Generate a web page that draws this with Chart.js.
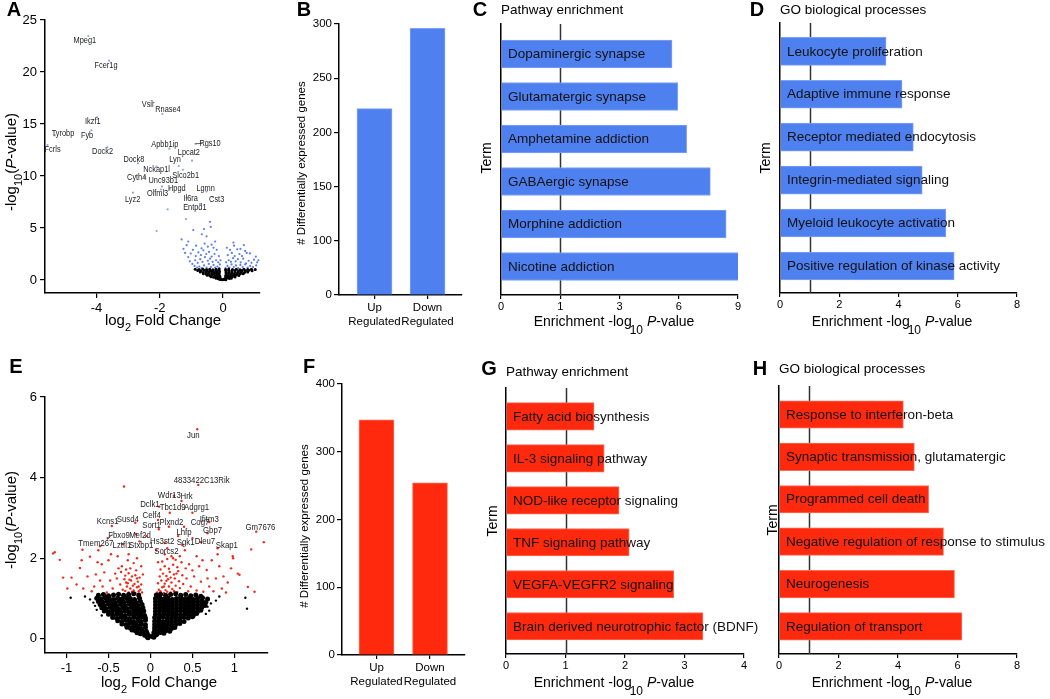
<!DOCTYPE html>
<html>
<head>
<meta charset="utf-8">
<script src="https://cdn.jsdelivr.net/npm/chart.js@4.4.1/dist/chart.umd.min.js"></script>
<style>
  body { margin: 0; background: #fff; }
  #fig { position: relative; width: 1050px; height: 699px; overflow: hidden; background: #fff; }
  #fig canvas { position: absolute; }
  .letter { position: absolute; font: bold 20px "Liberation Sans", Arial, sans-serif; transform: translate(-50%, -50%); }
</style>
</head>
<body>
<div id="fig"></div>
<script>
// ---------- data ----------
// panel A volcano (log2FC, -log10 p)
const aBlack = [
  [-0.1,0.04],[-0.05,0.07],[0.04,0.05],[0.09,0.03],[-0.02,0.02],[0.02,0.08],
  [-0.22,0.16],[-0.15,0.13],[-0.09,0.18],[0.07,0.14],[0.13,0.19],[0.2,0.15],[0.26,0.17],
  [-0.38,0.31],[-0.3,0.27],[-0.23,0.33],[-0.16,0.29],[-0.1,0.34],[0.08,0.28],[0.15,0.32],[0.22,0.27],[0.3,0.33],[0.38,0.29],
  [-0.5,0.46],[-0.42,0.43],[-0.34,0.48],[-0.26,0.44],[-0.18,0.47],[-0.11,0.42],[0.09,0.46],[0.17,0.43],[0.25,0.48],[0.33,0.44],[0.42,0.47],[0.5,0.43],
  [-0.62,0.61],[-0.53,0.58],[-0.45,0.63],[-0.36,0.59],[-0.28,0.62],[-0.2,0.57],[-0.12,0.6],[0.1,0.62],[0.18,0.58],[0.27,0.61],[0.36,0.57],[0.45,0.63],[0.55,0.59],[0.64,0.61],
  [-0.72,0.76],[-0.63,0.73],[-0.54,0.78],[-0.45,0.74],[-0.36,0.77],[-0.27,0.72],[-0.19,0.76],[-0.11,0.79],[0.1,0.74],[0.19,0.78],[0.28,0.73],[0.38,0.77],[0.48,0.74],[0.58,0.78],[0.68,0.73],[0.78,0.76],
  [-0.8,0.91],[-0.7,0.88],[-0.6,0.93],[-0.5,0.89],[-0.4,0.92],[-0.31,0.87],[-0.22,0.91],[-0.13,0.94],[0.09,0.89],[0.18,0.93],[0.28,0.88],[0.38,0.92],[0.49,0.87],[0.6,0.91],[0.71,0.88],[0.82,0.93],[0.92,0.89],
  [-0.88,1.03],[-0.76,1.0],[-0.64,1.05],[-0.52,1.01],[-0.42,1.04],[-0.32,0.99],[-0.22,1.03],[-0.12,1.06],[0.08,1.01],[0.18,1.05],[0.3,1.0],[0.42,1.04],[0.54,0.99],[0.66,1.03],[0.78,1.0],[0.9,1.04],[1.02,1.01]
];
const aBlue = [
  [-0.12,1.15],[-0.18,1.3],[-0.25,1.2],[-0.3,1.45],[-0.38,1.25],[-0.45,1.55],[-0.52,1.2],[-0.6,1.4],[-0.68,1.15],[-0.75,1.3],[-0.82,1.2],[-0.9,1.35],
  [-0.15,1.7],[-0.22,1.9],[-0.33,1.75],[-0.41,2.05],[-0.48,1.85],[-0.57,2.2],[-0.65,1.75],[-0.72,2.0],[-0.8,1.65],[-0.88,1.9],[-0.97,1.55],[-1.05,1.8],
  [-0.13,2.3],[-0.27,2.5],[-0.36,2.25],[-0.44,2.7],[-0.53,2.5],[-0.62,2.85],[-0.7,2.4],[-0.78,2.65],[-0.86,2.3],[-1.1,2.2],[-1.02,2.55],
  [-0.2,2.9],[-0.3,3.1],[-0.48,3.2],[-0.58,3.5],[-0.68,3.05],[-0.85,3.3],[-0.95,2.9],[-1.15,3.35],[-1.1,3.7],[-1.31,3.9],[-0.36,3.4],
  [-0.52,4.2],[-0.67,4.4],[-0.94,4.8],[-0.6,4.9],[-0.41,5.6],[-0.39,5.1],[-0.25,3.7],[-1.25,3.0],[-1.2,2.6],[-0.1,1.5],[-0.08,1.9],
  [0.08,1.15],[0.14,1.35],[0.2,1.2],[0.27,1.5],[0.34,1.25],[0.41,1.4],[0.48,1.15],[0.55,1.45],[0.62,1.25],[0.7,1.5],[0.78,1.2],[0.86,1.35],[0.95,1.25],[1.05,1.4],
  [0.1,1.7],[0.18,1.9],[0.25,1.75],[0.32,2.1],[0.4,1.8],[0.47,2.0],[0.56,1.7],[0.64,2.05],[0.73,1.6],[0.81,1.85],[0.9,1.65],[0.98,1.95],[1.08,1.7],[1.12,1.9],
  [0.15,2.4],[0.28,2.6],[0.37,2.3],[0.52,2.5],[0.6,2.3],[0.75,2.6],[0.85,2.56],[1.04,2.24],[0.22,2.9],[0.35,3.3],[0.45,2.95],[0.66,3.36],[0.55,3.0],[0.12,3.1],[0.33,3.6],[0.7,2.8]
];
const aTop = [
  [-4.26,23.46],[-3.6,21.09],[-2.24,17.21],[-1.92,15.96],[-3.98,15.64],[-5.32,13.9],[-4.16,14.4],[-5.55,12.98],
  [-3.66,12.76],[-1.7,12.63],[-0.87,13.1],[-0.98,11.47],[-2.69,11.22],[-1.4,10.96],[-2.1,10.9],[-1.27,10.6],
  [-2.47,9.9],[-1.93,9.0],[-1.68,8.75],[-0.52,8.5],[-1.96,8.7],[-1.15,7.9],[-0.32,8.0],[-2.85,8.4],[-0.73,7.3],
  [-1.75,6.8],[-2.1,4.7],[-1.17,5.85]
];
const aGenes = [
  ['Mpeg1',-4.37,22.98],['Fcer1g',-3.7,20.58],['Vsir',-2.37,16.83],['Rnase4',-1.74,16.35],['Ikzf1',-4.12,15.22],
  ['Tyrobp',-5.06,14.13],['Fyb',-4.3,13.94],['Fcrls',-5.39,12.5],['Dock2',-3.81,12.34],['Apbb1ip',-1.84,12.98],
  ['Rgs10',-0.41,13.14],['Lpcat2',-1.08,12.24],['Dock8',-2.82,11.63],['Lyn',-1.52,11.54],['Nckap1l',-2.1,10.67],
  ['Slco2b1',-1.18,10.03],['Cyth4',-2.73,9.81],['Unc93b1',-1.89,9.55],['Hpgd',-1.46,8.78],['Lgmn',-0.55,8.78],
  ['Olfml3',-2.07,8.34],['Il6ra',-1.02,7.88],['Cst3',-0.2,7.76],['Lyz2',-2.86,7.76],['Entpd1',-0.89,6.99]
];

// panel B / F counts
const regCats = [['Up', 'Regulated'], ['Down', 'Regulated']];
const bCounts = [222, 296];
const bTicks = [0, 100, 150, 200, 250, 300];
const fCounts = [347, 254];
const fTicks = [0, 100, 200, 300, 400];

// panel C / D / G / H enrichment (-log10 p)
const cTerms = ['Dopaminergic synapse', 'Glutamatergic synapse', 'Amphetamine addiction', 'GABAergic synapse', 'Morphine addiction', 'Nicotine addiction'];
const cVals = [5.66, 5.95, 6.4, 7.6, 8.4, 9.05];
const cTicks = [0, 1, 3, 6, 9];
const dTerms = ['Leukocyte proliferation', 'Adaptive immune response', 'Receptor mediated endocytosis', 'Integrin-mediated signaling', 'Myeloid leukocyte activation', 'Positive regulation of kinase activity'];
const dVals = [3.58, 4.12, 4.5, 4.8, 5.6, 5.88];
const dTicks = [0, 2, 4, 6, 8];
const gTerms = ['Fatty acid biosynthesis', 'IL-3 signaling pathway', 'NOD-like receptor signaling', 'TNF signaling pathway', 'VEGFA-VEGFR2 signaling', 'Brain derived neurotrophic factor (BDNF)'];
const gVals = [1.48, 1.65, 1.9, 2.07, 2.82, 3.31];
const gTicks = [0, 1, 2, 3, 4];
const hTerms = ['Response to interferon-beta', 'Synaptic transmission, glutamatergic', 'Programmed cell death', 'Negative regulation of response to stimulus', 'Neurogenesis', 'Regulation of transport'];
const hVals = [4.18, 4.55, 5.03, 5.53, 5.9, 6.15];
const hTicks = [0, 2, 4, 6, 8];

// panel E volcano
const eBlack = [
  [-0.04,0.05],[-0.02,0.08],[-0.03,0.03],[0.02,0.06],[0.04,0.04],[0.05,0.09],[-0.07,0.09],[0.07,0.1],
  [-0.16,0.15],[-0.12,0.13],[-0.08,0.16],[-0.04,0.14],[0.04,0.15],[0.08,0.13],[0.12,0.16],[0.16,0.14],
  [-0.22,0.22],[-0.18,0.2],[-0.14,0.23],[-0.1,0.21],[-0.05,0.19],[0.05,0.22],[0.1,0.2],[0.14,0.23],[0.19,0.21],[0.23,0.19],
  [-0.28,0.29],[-0.24,0.27],[-0.2,0.3],[-0.15,0.28],[-0.11,0.26],[-0.06,0.29],[0.05,0.28],[0.1,0.3],[0.15,0.27],[0.2,0.29],[0.25,0.26],[0.29,0.28],
  [-0.34,0.37],[-0.29,0.35],[-0.25,0.38],[-0.2,0.36],[-0.16,0.34],[-0.11,0.37],[-0.06,0.35],[0.05,0.36],[0.1,0.38],[0.15,0.35],[0.2,0.37],[0.25,0.34],[0.3,0.36],[0.35,0.38],
  [-0.39,0.45],[-0.34,0.43],[-0.29,0.46],[-0.24,0.44],[-0.2,0.42],[-0.15,0.45],[-0.11,0.43],[-0.06,0.46],[0.05,0.44],[0.1,0.46],[0.15,0.43],[0.2,0.45],[0.25,0.42],[0.3,0.44],[0.35,0.46],[0.4,0.43],
  [-0.45,0.53],[-0.4,0.51],[-0.35,0.54],[-0.3,0.52],[-0.25,0.5],[-0.2,0.53],[-0.15,0.51],[-0.11,0.54],[-0.06,0.52],[0.05,0.53],[0.1,0.51],[0.15,0.54],[0.2,0.52],[0.25,0.5],[0.3,0.53],[0.35,0.51],[0.4,0.54],[0.45,0.52],[0.5,0.55],
  [-0.5,0.61],[-0.45,0.59],[-0.4,0.62],[-0.35,0.6],[-0.3,0.58],[-0.25,0.61],[-0.2,0.59],[-0.16,0.62],[-0.11,0.6],[-0.07,0.58],[0.06,0.61],[0.11,0.59],[0.16,0.62],[0.21,0.6],[0.26,0.58],[0.31,0.61],[0.36,0.59],[0.41,0.62],[0.46,0.6],[0.51,0.58],[0.55,0.63],
  [-0.55,0.69],[-0.5,0.67],[-0.45,0.7],[-0.4,0.68],[-0.35,0.66],[-0.3,0.69],[-0.25,0.67],[-0.2,0.7],[-0.16,0.68],[-0.12,0.66],[-0.08,0.69],[0.06,0.68],[0.11,0.7],[0.16,0.67],[0.21,0.69],[0.26,0.66],[0.31,0.68],[0.36,0.7],[0.41,0.67],[0.46,0.69],[0.51,0.66],[0.56,0.68],[0.6,0.71],
  [-0.58,0.77],[-0.53,0.75],[-0.48,0.78],[-0.43,0.76],[-0.38,0.74],[-0.33,0.77],[-0.28,0.75],[-0.23,0.78],[-0.18,0.76],[-0.13,0.74],[-0.09,0.77],[0.06,0.76],[0.11,0.78],[0.16,0.75],[0.21,0.77],[0.26,0.74],[0.31,0.76],[0.36,0.78],[0.41,0.75],[0.46,0.77],[0.51,0.74],[0.56,0.76],[0.61,0.78],
  [-0.6,0.85],[-0.55,0.83],[-0.5,0.86],[-0.45,0.84],[-0.4,0.82],[-0.35,0.85],[-0.3,0.83],[-0.25,0.86],[-0.2,0.84],[-0.15,0.82],[-0.1,0.85],[0.06,0.84],[0.11,0.86],[0.16,0.83],[0.21,0.85],[0.26,0.82],[0.31,0.84],[0.36,0.86],[0.41,0.83],[0.46,0.85],[0.51,0.82],[0.56,0.84],[0.61,0.86],[0.65,0.83],
  [-0.62,0.93],[-0.57,0.91],[-0.52,0.94],[-0.47,0.92],[-0.42,0.9],[-0.37,0.93],[-0.32,0.91],[-0.27,0.94],[-0.22,0.92],[-0.17,0.9],[-0.12,0.93],[0.06,0.92],[0.11,0.94],[0.16,0.91],[0.21,0.93],[0.26,0.9],[0.31,0.92],[0.36,0.94],[0.41,0.91],[0.46,0.93],[0.51,0.9],[0.56,0.92],[0.61,0.94],[0.66,0.91],
  [-0.64,1.01],[-0.59,0.99],[-0.54,1.02],[-0.49,1.0],[-0.44,0.98],[-0.39,1.01],[-0.34,0.99],[-0.29,1.02],[-0.24,1.0],[-0.19,0.98],[-0.13,1.01],[0.06,1.0],[0.11,1.02],[0.16,0.99],[0.21,1.01],[0.26,0.98],[0.31,1.0],[0.36,1.02],[0.41,0.99],[0.46,1.01],[0.51,0.98],[0.56,1.0],[0.62,1.02],[0.68,0.99],
  [-0.62,1.08],[-0.56,1.1],[-0.5,1.07],[-0.44,1.09],[-0.38,1.11],[-0.32,1.08],[-0.26,1.1],[-0.2,1.12],[-0.14,1.09],[0.07,1.09],[0.12,1.11],[0.18,1.08],[0.24,1.1],[0.3,1.12],[0.36,1.08],[0.42,1.1],[0.48,1.07],[0.54,1.09],[0.6,1.06]
];
// scattered non-significant points outside the dense cloud
const eBlackOut = [
  [-0.95,1.02],[-0.78,1.05],[-0.72,0.98],[-0.68,0.9],[0.72,0.88],[0.68,0.8],[0.78,0.95],[0.82,1.05],[1.13,1.02],[1.15,0.75],
  [-0.66,0.82],[-0.64,0.72],[0.7,0.7],[0.66,0.62],[-0.58,0.58]
];
const eRed = [
  [-0.1,1.15],[-0.14,1.18],[-0.18,1.14],[-0.22,1.17],[-0.26,1.15],[-0.3,1.19],[-0.12,1.22],[-0.16,1.28],[-0.2,1.2],[-0.24,1.25],[-0.28,1.3],[-0.33,1.22],
  [-0.11,1.35],[-0.15,1.42],[-0.19,1.36],[-0.23,1.45],[-0.27,1.38],[-0.31,1.48],[-0.36,1.35],[-0.13,1.52],[-0.18,1.58],[-0.22,1.55],[-0.26,1.63],[-0.3,1.57],
  [-0.35,1.66],[-0.4,1.5],[-0.17,1.7],[-0.24,1.75],[-0.29,1.72],[-0.34,1.8],[-0.38,1.75],[-0.42,1.62],[-0.45,1.25],[-0.48,1.45],[-0.09,1.6],[-0.11,1.8],
  [-0.2,1.88],[-0.27,1.95],[-0.39,2.05],[-0.26,2.1],[-0.16,2.0],[-0.14,1.3],[-0.21,1.32],[-0.25,1.47],[-0.16,1.5],[-0.29,1.4],
  [-1.16,2.12],[-1.08,1.96],[-1.04,1.52],[-0.94,1.52],[-0.84,1.76],[-0.8,1.25],[-0.72,2.04],[-0.63,1.9],[-0.6,1.45],[-0.55,1.65],[-0.52,1.15],[-0.67,1.3],
  [-0.75,1.55],[-0.88,1.35],[-0.58,1.85],[-0.5,1.95],[-0.65,1.6],[-0.7,1.18],[-0.62,2.2],[-0.47,2.1],[-0.82,1.95],[-0.57,1.3],[-0.99,1.25],
  [0.08,1.15],[0.12,1.18],[0.16,1.14],[0.2,1.17],[0.24,1.15],[0.28,1.19],[0.32,1.16],[0.1,1.22],[0.14,1.28],[0.18,1.21],[0.22,1.3],[0.26,1.24],[0.3,1.32],[0.35,1.26],
  [0.09,1.38],[0.13,1.45],[0.17,1.37],[0.21,1.48],[0.25,1.4],[0.29,1.5],[0.34,1.43],[0.39,1.36],[0.11,1.55],[0.15,1.62],[0.19,1.56],[0.23,1.66],[0.28,1.6],
  [0.33,1.68],[0.38,1.58],[0.43,1.5],[0.12,1.72],[0.17,1.8],[0.22,1.74],[0.27,1.84],[0.32,1.78],[0.37,1.9],[0.42,1.75],[0.14,1.92],[0.2,1.98],[0.25,2.05],
  [0.3,1.96],[0.46,1.85],[0.07,2.2],[0.17,2.1],[0.27,2.0],[0.41,2.2],[0.09,1.9],[0.35,2.05],[0.48,1.3],[0.45,1.18],[0.16,1.3],[0.24,1.52],[0.19,1.44],[0.31,1.62],
  [0.52,1.55],[0.55,1.2],[0.58,1.8],[0.6,1.42],[0.63,1.17],[0.67,1.71],[0.7,1.3],[0.73,1.95],[0.75,1.18],[0.78,1.5],[0.82,1.8],[0.85,1.25],[0.87,1.55],
  [0.92,1.4],[0.985,2.0],[1.06,1.59],[1.04,1.62],[1.16,1.29],[1.24,1.17],[0.55,2.05],[0.62,1.95],[0.68,1.5],[0.8,2.1],[0.9,1.15],[0.5,1.7],[0.96,1.75],
  [0.557,5.2],[0.57,3.82],[-0.315,3.78],[0.37,3.42],[0.28,3.55],[0.105,3.28],[0.23,3.13],[0.5,3.13],[0.09,2.95],[-0.46,2.8],[-0.18,2.88],[0.1,2.72],
  [0.22,2.78],[0.4,2.78],[0.7,2.9],[0.68,2.62],[1.26,2.66],[1.35,2.4],[1.2,2.22],[0.33,2.55],[-0.17,2.6],[-0.51,2.5],[-0.6,2.3],[-0.81,2.21],[-0.33,2.35],
  [-0.13,2.42],[0.17,2.38],[0.38,2.33],[0.6,2.4],[0.8,2.25],[0.2,2.25],[0.98,2.05],[-1.14,2.15],[0.5,2.5],[-0.05,2.55]
];
const eGenes = [
  ['Jun',0.51,5.06],['4833422C13Rik',0.61,3.93],['Wdr13',0.224,3.56],['Hrk',0.43,3.53],['Dclk1',-0.006,3.33],
  ['Tbc1d9',0.264,3.26],['Adgrg1',0.55,3.26],['Celf4',0.014,3.07],['Kcns1',-0.51,2.91],['Susd4',-0.27,2.97],
  ['Ifitm3',0.7,2.97],['Sort1',0.014,2.82],['Plxnd2',0.25,2.89],['Cog7',0.59,2.89],['Gbp7',0.74,2.7],
  ['Gm7676',1.31,2.76],['Fbxo9',-0.375,2.58],['Mef2d',-0.125,2.58],['Lhfp',0.4,2.64],['Hs3st2',0.14,2.43],
  ['Sgk1',0.42,2.4],['Dleu7',0.65,2.41],['Skap1',0.91,2.31],['Tmem267',-0.65,2.37],['Lztfl1',-0.34,2.31],
  ['Stxbp1',-0.11,2.31],['Sorcs2',0.19,2.18]
];

// ---------- helpers ----------
const FONT = '"Liberation Sans", Arial, sans-serif';
Chart.defaults.font.family = FONT;
Chart.defaults.color = '#000';
Chart.defaults.animation = false;
Chart.defaults.events = [];
Chart.defaults.plugins.legend.display = false;
Chart.defaults.plugins.tooltip.enabled = false;

const fig = document.getElementById('fig');
const BLUE = '#4f80f0', BLUE_EDGE = '#7ea3f6';
const RED = '#ff2a0e', RED_EDGE = '#ff6b55';

function canvasAt(box) {
  const c = document.createElement('canvas');
  c.width = box[2]; c.height = box[3];
  c.style.left = box[0] + 'px'; c.style.top = box[1] + 'px';
  fig.appendChild(c);
  return c;
}

function letter(t, x, y) {
  const d = document.createElement('div');
  d.className = 'letter'; d.textContent = t;
  d.style.left = x + 'px'; d.style.top = y + 'px';
  fig.appendChild(d);
}

// axis position of a value: piecewise linear between the labelled ticks
function stepPos(tickVals) {
  return v => {
    for (let i = 1; i < tickVals.length; i++) {
      if (v <= tickVals[i] || i === tickVals.length - 1)
        return (i - 1) + (v - tickVals[i - 1]) / (tickVals[i] - tickVals[i - 1]);
    }
  };
}

// text made of pieces (subscripts, italics), page coordinates
function drawRich(ctx, r, ox, oy) {
  const size = r.size, subSize = r.subSize || Math.round(size * 0.8), dy = r.dy || size * 0.55;
  const fontOf = p => (p.it ? 'italic ' : '') + (p.sub ? subSize : size) + 'px ' + FONT;
  let w = 0;
  r.parts.forEach(p => { ctx.font = fontOf(p); p.w = ctx.measureText(p.t).width; w += p.w + (p.k || 0); });
  ctx.save();
  ctx.translate(r.x - ox, r.y - oy);
  if (r.rot) ctx.rotate(r.rot);
  ctx.fillStyle = '#000';
  ctx.textBaseline = 'middle';
  ctx.textAlign = 'left';
  let cx = r.align === 'left' ? 0 : -w / 2;
  r.parts.forEach(p => {
    ctx.font = fontOf(p);
    ctx.fillText(p.t, cx + (p.k || 0), p.sub ? dy : 0);
    cx += p.w + (p.k || 0);
  });
  ctx.restore();
}

function txt(t, x, y, size, extra) { return Object.assign({parts: [{t: t}], x: x, y: y, size: size}, extra || {}); }

const UP = -Math.PI / 2;
const enrichTitle = (x, y) => ({x: x, y: y, size: 14, subSize: 12, dy: 9, parts: [
  {t: 'Enrichment -log'}, {t: '10', sub: true, k: -2}, {t: ' '}, {t: 'P', it: true}, {t: '-value'}]});
const logPTitle = (x, y) => ({x: x, y: y, size: 15, subSize: 11, dy: 7, rot: UP, parts: [
  {t: '-log'}, {t: '10', sub: true}, {t: '('}, {t: 'P', it: true}, {t: '-value)'}]});
const fcTitle = (x, y) => ({x: x, y: y, size: 15, subSize: 11, dy: 7, parts: [
  {t: 'log'}, {t: '2', sub: true}, {t: ' Fold Change'}]});

function frame(box, plot) {
  return {
    padding: {left: 0, top: plot[1] - box[1], right: box[0] + box[2] - plot[2], bottom: 0},
    yw: plot[0] - box[0],
    xh: box[1] + box[3] - plot[3]
  };
}

function axis(f, isX, o) {
  return Object.assign({
    type: 'linear',
    offset: false,
    grid: {display: o.tickMarks !== false, offset: false, drawOnChartArea: false, drawTicks: true, tickLength: o.tickLength || 5, color: '#000', lineWidth: 1.2},
    border: {display: true, color: '#000', width: 1.5},
    ticks: {display: o.tickMarks !== false, color: '#000', padding: o.pad == null ? 3 : o.pad, font: {size: o.font || 12}, callback: o.cb, maxRotation: 0, autoSkip: false},
    afterFit: isX ? (s => { s.height = f.xh; }) : (s => { s.width = f.yw; }),
    afterBuildTicks: o.ticks ? (s => { s.ticks = o.ticks.map(v => ({value: v})); }) : undefined
  }, o.extra || {});
}

// ---------- volcano ----------
function volcano(box, plot, xr, yr, xt, yt, sets, genes, leaders, texts, geneSize) {
  const f = frame(box, plot);
  new Chart(canvasAt(box), {
    type: 'scatter',
    data: {datasets: sets.map(s => ({
      data: s.pts.map(p => ({x: p[0], y: p[1]})),
      backgroundColor: s.color, borderWidth: 0, pointRadius: s.r, pointHoverRadius: s.r
    }))},
    options: {
      responsive: false, layout: {padding: f.padding},
      scales: {
        x: axis(f, true, {ticks: xt, font: 13, extra: {min: xr[0], max: xr[1]}}),
        y: axis(f, false, {ticks: yt, font: 13, extra: {min: yr[0], max: yr[1]}})
      }
    },
    plugins: [{
      id: 'volcanoText',
      afterDatasetsDraw(c) {
        const ctx = c.ctx, X = c.scales.x, Y = c.scales.y;
        ctx.save();
        ctx.strokeStyle = '#333'; ctx.lineWidth = 0.8;
        leaders.forEach(l => {
          ctx.beginPath();
          ctx.moveTo(X.getPixelForValue(l[0]), Y.getPixelForValue(l[1]));
          ctx.lineTo(X.getPixelForValue(l[2]), Y.getPixelForValue(l[3]));
          ctx.stroke();
        });
        ctx.fillStyle = '#1a1a1a';
        ctx.textAlign = 'center'; ctx.textBaseline = 'middle';
        ctx.font = geneSize + 'px ' + FONT;
        genes.forEach(g => {
          ctx.save();
          ctx.translate(X.getPixelForValue(g[1]), Y.getPixelForValue(g[2]));
          ctx.scale(0.82, 1);
          ctx.fillText(g[0], 0, 0);
          ctx.restore();
        });
        ctx.restore();
      },
      afterDraw(c) { texts.forEach(t => drawRich(c.ctx, t, box[0], box[1])); }
    }]
  });
}

// ---------- vertical count bars ----------
function countBars(box, plot, xr, vals, tickVals, color, edge, texts) {
  const f = frame(box, plot);
  const pos = stepPos(tickVals);
  new Chart(canvasAt(box), {
    type: 'bar',
    data: {datasets: [{
      data: vals.map((v, i) => ({x: i, y: pos(v)})),
      backgroundColor: color, borderColor: edge, borderWidth: 1, barThickness: 35
    }]},
    options: {
      responsive: false, layout: {padding: f.padding},
      scales: {
        x: axis(f, true, {ticks: regCats.map((c, i) => i), tickLength: 4, pad: 2, font: 11.5,
          cb: (v, i) => regCats[i], extra: {min: xr[0], max: xr[1]}}),
        y: axis(f, false, {ticks: tickVals.map((t, i) => i), font: 11.5, pad: 2,
          cb: (v, i) => String(tickVals[i]), extra: {min: 0, max: tickVals.length - 1}})
      }
    },
    plugins: [{id: 'countText', afterDraw(c) { texts.forEach(t => drawRich(c.ctx, t, box[0], box[1])); }}]
  });
}

// ---------- horizontal enrichment bars ----------
function enrichBars(box, plot, yr, thick, terms, vals, tickVals, color, edge, texts) {
  const f = frame(box, plot);
  const pos = stepPos(tickVals);
  new Chart(canvasAt(box), {
    type: 'bar',
    data: {datasets: [{
      data: vals.map((v, i) => ({x: pos(v), y: i})),
      backgroundColor: color, borderColor: edge, borderWidth: 1, barThickness: thick
    }]},
    options: {
      indexAxis: 'y',
      responsive: false, layout: {padding: f.padding},
      scales: {
        x: axis(f, true, {ticks: tickVals.map((t, i) => i), tickLength: 4, pad: 1, font: 11,
          cb: (v, i) => String(tickVals[i]), extra: {min: 0, max: tickVals.length - 1}}),
        y: axis(f, false, {tickMarks: false, extra: {min: yr[0], max: yr[1], reverse: true}})
      }
    },
    plugins: [{
      id: 'enrichText',
      beforeDatasetsDraw(c) {
        const ctx = c.ctx, x = Math.round(c.scales.x.getPixelForValue(pos(1))) + 0.5;
        ctx.save();
        ctx.strokeStyle = '#333'; ctx.lineWidth = 1.5;
        ctx.beginPath(); ctx.moveTo(x, c.chartArea.top); ctx.lineTo(x, c.chartArea.bottom); ctx.stroke();
        ctx.restore();
      },
      afterDatasetsDraw(c) {
        const ctx = c.ctx, meta = c.getDatasetMeta(0);
        ctx.save();
        ctx.fillStyle = '#111'; ctx.font = '13.5px ' + FONT;
        ctx.textAlign = 'left'; ctx.textBaseline = 'middle';
        meta.data.forEach((b, i) => ctx.fillText(terms[i], c.chartArea.left + 7, b.y + 0.5));
        ctx.restore();
      },
      afterDraw(c) { texts.forEach(t => drawRich(c.ctx, t, box[0], box[1])); }
    }]
  });
}

// ---------- build the figure ----------
volcano([0, 0, 280, 340], [45, 20, 260, 293], [-5.63, 1.17], [-1.25, 25], [-4, -2, 0], [0, 5, 10, 15, 20, 25],
  [{pts: aBlack, color: '#000', r: 1.5}, {pts: aBlue, color: '#5a7ef0', r: 1.1}, {pts: aTop, color: '#93a2e6', r: 1.1}],
  aGenes, [[-0.87, 13.1, -0.66, 13.13]],
  [logPTitle(12, 162), fcTitle(163, 321)], 9);

countBars([290, 0, 190, 340], [339, 24, 462, 295], [-0.67, 1.65], bCounts, bTicks, BLUE, BLUE_EDGE,
  [txt('# Differentially expressed genes', 302, 163, 11.5, {rot: UP})]);

enrichBars([470, 0, 290, 340], [501, 24, 738, 295], [-0.706, 5.67], 28, cTerms, cVals, cTicks, BLUE, BLUE_EDGE,
  [txt('Pathway enrichment', 501, 10, 13.5, {align: 'left'}), txt('Term', 487, 158, 14, {rot: UP}), enrichTitle(614, 322)]);

enrichBars([760, 0, 290, 340], [780, 23, 1017, 293], [-0.66, 5.63], 28, dTerms, dVals, dTicks, BLUE, BLUE_EDGE,
  [txt('GO biological processes', 780, 10, 13.5, {align: 'left'}), txt('Term', 766, 158, 14, {rot: UP}), enrichTitle(892, 322)]);

volcano([0, 340, 290, 359], [45, 397, 268, 653], [-1.256, 1.4], [-0.35, 6], [-1, -0.5, 0, 0.5, 1], [0, 2, 4, 6],
  [{pts: eBlack, color: '#000', r: 2.5}, {pts: eBlackOut, color: '#000', r: 1.2}, {pts: eRed, color: '#ee2a1c', r: 1.2}],
  eGenes, [[-0.52, 2.46, -0.45, 2.6]],
  [logPTitle(12, 520), fcTitle(159, 683)], 9.5);

countBars([290, 340, 190, 359], [342, 384, 465, 655], [-0.645, 1.654], fCounts, fTicks, RED, RED_EDGE,
  [txt('# Differentially expressed genes', 305, 526, 11.5, {rot: UP})]);

enrichBars([470, 340, 290, 359], [506, 388, 744, 654], [-0.674, 5.66], 27.5, gTerms, gVals, gTicks, RED, RED_EDGE,
  [txt('Pathway enrichment', 506, 372, 13.5, {align: 'left'}), txt('Term', 493, 521, 14, {rot: UP}), enrichTitle(614, 683)]);

enrichBars([760, 340, 290, 359], [779, 386, 1017, 654], [-0.672, 5.65], 27.5, hTerms, hVals, hTicks, RED, RED_EDGE,
  [txt('GO biological processes', 779, 369, 13.5, {align: 'left'}), txt('Term', 773, 520, 14, {rot: UP}), enrichTitle(892, 683)]);

[['A', 14, 9], ['B', 304, 9], ['C', 480, 9], ['D', 757, 9], ['E', 16, 366], ['F', 309, 366], ['G', 489, 368], ['H', 760, 368]]
  .forEach(l => letter(l[0], l[1], l[2]));
</script>
</body>
</html>
